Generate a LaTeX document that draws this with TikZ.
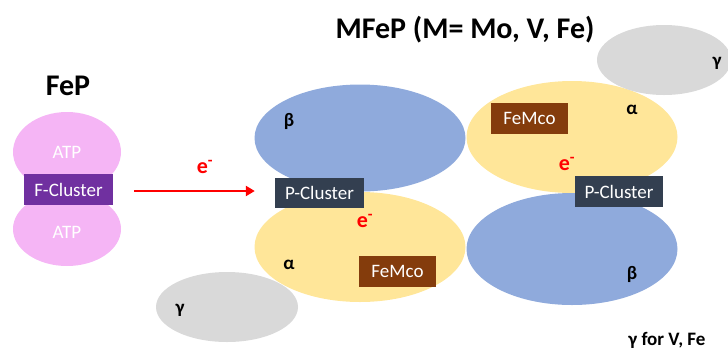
\documentclass[tikz,border=0pt]{standalone}
\usepackage{fontspec}
\setmainfont{Carlito}
\usetikzlibrary{shapes.geometric,arrows.meta}
\definecolor{pinkc}{HTML}{F5B5F5}
\definecolor{bluec}{HTML}{8FAADC}
\definecolor{yellowc}{HTML}{FFE699}
\definecolor{grayc}{HTML}{D9D9D9}
\definecolor{purplec}{HTML}{7030A0}
\definecolor{darkc}{HTML}{333F50}
\definecolor{brownc}{HTML}{843C0C}
\definecolor{redc}{HTML}{FF0000}
\tikzset{
  blob/.style={ellipse, draw=none, inner sep=0pt},
  box/.style={rectangle, draw=none, inner sep=0pt, text=white, font=\fontsize{19}{21}\selectfont},
  lbl/.style={font=\bfseries\fontsize{19}{21}\selectfont, text=black},
  elec/.style={font=\bfseries\fontsize{22}{23}\selectfont, text=redc},
  title/.style={font=\bfseries\fontsize{30}{32}\selectfont},
  flow/.style={draw=redc, line width=2.5pt, -{Triangle[length=9pt,width=10pt]}}
}
\begin{document}
\begin{tikzpicture}[x=1pt,y=-1pt]
\useasboundingbox (0,0) rectangle (728,349);
% FeP
\node[title] (fep) at (68,86) {FeP};
\node[blob, fill=pinkc, minimum width=108pt, minimum height=80pt] (atp1) at (67,152) {};
\node[blob, fill=pinkc, minimum width=108pt, minimum height=74pt] (atp2) at (67,229) {};
\node[text=white, font=\fontsize{19}{21}\selectfont] (atpt1) at (67,152) {ATP};
\node[text=white, font=\fontsize{19}{21}\selectfont] (atpt2) at (67,232) {ATP};
\node[box, fill=purplec, minimum width=89pt, minimum height=31pt] (fcl) at (68.5,189.5) {F-Cluster};
% MFeP
\node[title] (mfep) at (465,30) {MFeP (M= Mo, V, Fe)};
\node[blob, fill=grayc, minimum width=142pt, minimum height=70pt] (g1) at (227,307) {};
\node[blob, fill=bluec, minimum width=211pt, minimum height=107pt] (b1) at (360,138) {};
\node[blob, fill=yellowc, minimum width=211pt, minimum height=110pt] (y1) at (360,247) {};
\node[blob, fill=yellowc, minimum width=211pt, minimum height=112pt] (y2) at (572,137) {};
\node[blob, fill=bluec, minimum width=211pt, minimum height=112pt] (b2) at (572,249) {};
\node[blob, fill=grayc, minimum width=134pt, minimum height=70pt] (g2) at (664,60) {};
% labels
\node[lbl] (beta1) at (289,121) {β};
\node[lbl] (alpha1) at (289,265) {α};
\node[lbl] (gamma1) at (180,310) {γ};
\node[lbl] (alpha2) at (632,110) {α};
\node[lbl] (beta2) at (632,274) {β};
\node[lbl] (gamma2) at (717,63) {γ};
% boxes
\node[box, fill=darkc, minimum width=89pt, minimum height=30pt] (pcl1) at (319.5,193) {P-Cluster};
\node[box, fill=darkc, minimum width=88pt, minimum height=31pt] (pcl2) at (619,191.5) {P-Cluster};
\node[box, fill=brownc, minimum width=77pt, minimum height=31pt] (fem1) at (397.5,271.5) {FeMco};
\node[box, fill=brownc, minimum width=77pt, minimum height=31pt] (fem2) at (529.5,118.5) {FeMco};
% electrons
\node[elec] (e0) at (205,167) {e\textsuperscript{-}};
\node[elec] (e1) at (365,221) {e\textsuperscript{-}};
\node[elec] (e2) at (567,164) {e\textsuperscript{-}};
% arrow
\draw[flow, shorten <=21pt, shorten >=20pt] ([yshift=-1.5pt]fcl.east) -- ([yshift=-1.5pt]fcl.east -| pcl1.west);
% note
\node[font=\bfseries\fontsize{19}{21}\selectfont, anchor=east] (note) at (709,340) {γ for V, Fe};
\end{tikzpicture}
\end{document}
